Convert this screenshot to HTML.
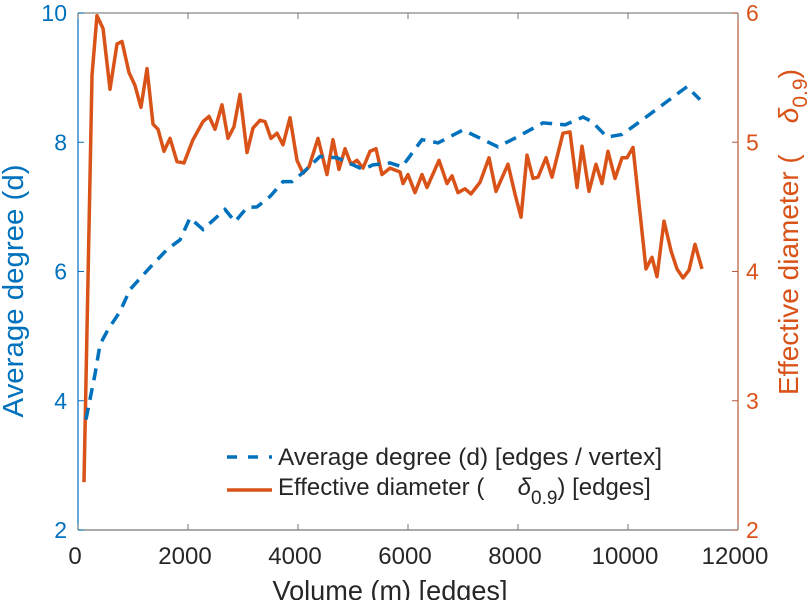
<!DOCTYPE html>
<html><head><meta charset="utf-8"><style>
body{margin:0;background:#fff;}
svg{display:block;font-family:"Liberation Sans",sans-serif;}
</style></head><body>
<svg id="chart" width="812" height="600"></svg>
<script>
const volD=[145,309,400,545,764,945,1273,1618,1855,2036,2273,2673,2855,3073,3255,3491,3727,3891,4091,4400,4709,5000,5182,5364,5673,5891,6255,6545,7000,7364,7636,7982,8455,8855,9182,9345,9618,9891,10218,10582,11073,11309];
const degree=[3.71,4.41,4.87,5.10,5.38,5.72,6.03,6.34,6.49,6.83,6.65,6.96,6.77,6.99,7.00,7.16,7.39,7.39,7.53,7.78,7.76,7.65,7.58,7.65,7.68,7.62,8.04,7.99,8.19,8.04,7.93,8.08,8.30,8.27,8.39,8.32,8.08,8.12,8.32,8.55,8.86,8.66];
const volE=[109,255,345,455,582,709,800,927,1036,1145,1255,1364,1455,1564,1673,1800,1927,2091,2273,2382,2491,2618,2727,2836,2945,3073,3182,3309,3400,3509,3618,3727,3855,3982,4091,4200,4364,4527,4636,4745,4855,4964,5073,5182,5309,5418,5527,5673,5855,5909,6000,6127,6255,6345,6564,6709,6800,6909,7036,7145,7309,7473,7600,7818,7945,8055,8164,8273,8364,8509,8618,8818,8945,9073,9164,9291,9418,9527,9636,9764,9891,9982,10091,10327,10436,10527,10655,10782,10891,11000,11109,11218,11345];
const diam=[2.37,5.52,5.98,5.88,5.41,5.76,5.78,5.54,5.44,5.27,5.57,5.14,5.10,4.93,5.03,4.85,4.84,5.02,5.16,5.20,5.10,5.29,5.03,5.12,5.37,4.92,5.11,5.17,5.16,5.03,5.07,4.98,5.19,4.86,4.76,4.81,5.03,4.75,5.02,4.79,4.95,4.83,4.86,4.80,4.93,4.95,4.75,4.80,4.77,4.68,4.75,4.61,4.75,4.65,4.86,4.68,4.74,4.61,4.64,4.60,4.69,4.88,4.62,4.83,4.60,4.42,4.90,4.72,4.73,4.88,4.73,5.07,5.08,4.65,4.97,4.62,4.83,4.68,4.93,4.72,4.88,4.88,4.96,4.02,4.11,3.96,4.39,4.16,4.02,3.95,4.01,4.21,4.02];
const xTicks=[0,2000,4000,6000,8000,10000,12000];
const yLTicks=[2,4,6,8,10];
const yRTicks=[2,3,4,5,6];
const L=78,R=738,T=13,B=530;
const xs=v=>L+(v/12000)*(R-L);
const yl=v=>B-(v-2)/8*(B-T);
const yr=v=>B-(v-2)/4*(B-T);
const svg=document.getElementById('chart');
const NS='http://www.w3.org/2000/svg';
function mk(tag,attrs,parent){const e=document.createElementNS(NS,tag);for(const k in attrs)e.setAttribute(k,attrs[k]);(parent||svg).appendChild(e);return e;}
const BLUE='#0072BD',ORANGE='#D95319',RAX='#b35a3a';
let e;
e=mk('line',{x1:L,y1:T,x2:R,y2:T,stroke:'#888','stroke-width':1.2});


e=mk('line',{x1:L,y1:B,x2:R,y2:B,stroke:'#777','stroke-width':1.2});


e=mk('line',{x1:L,y1:T,x2:L,y2:B,stroke:BLUE,'stroke-width':1.2});


e=mk('line',{x1:R,y1:T,x2:R,y2:B,stroke:RAX,'stroke-width':1.2});


xTicks.forEach(t=>{
  const x=xs(t);
  e=mk('line',{x1:x,y1:B,x2:x,y2:B-6,stroke:'#777'});
  
  
  e=mk('line',{x1:x,y1:T,x2:x,y2:T+6,stroke:'#777'});
  
  
  e=mk('text',{x:x-3,y:564,'text-anchor':'middle','font-size':24,fill:'#262626'});
  e.textContent=t;
  
  
});
yLTicks.forEach(t=>{
  const y=yl(t);
  e=mk('line',{x1:L,y1:y,x2:L+6,y2:y,stroke:BLUE});
  
  
  e=mk('text',{x:L-11,y:y+8,'text-anchor':'end','font-size':23,fill:BLUE});
  e.textContent=t;
  
  
});
yRTicks.forEach(t=>{
  const y=yr(t);
  e=mk('line',{x1:R,y1:y,x2:R-6,y2:y,stroke:RAX});
  
  
  e=mk('text',{x:R+8,y:y+8,'text-anchor':'start','font-size':23,fill:ORANGE});
  e.textContent=t;
  
  
});
e=mk('text',{x:0,y:0,'text-anchor':'middle','font-size':29,fill:BLUE,textLength:253,lengthAdjust:'spacingAndGlyphs',transform:'translate(23,291) rotate(-90)'});
e.textContent='Average degree (d)';


e=mk('text',{x:0,y:0,'text-anchor':'start','font-size':28,fill:ORANGE,transform:'translate(798,395) rotate(-90)'});
e.innerHTML='Effective diameter (&#160;&#160;&#160;&#160;<tspan font-style="italic">δ</tspan><tspan dy="9" font-size="21">0.9</tspan><tspan dy="-9">)</tspan>';


e=mk('text',{x:390,y:600,'text-anchor':'middle','font-size':28,fill:'#262626',textLength:235,lengthAdjust:'spacingAndGlyphs'});
e.textContent='Volume (m) [edges]';


e=mk('polyline',{points:volE.map((v,i)=>xs(v)+','+yr(diam[i])).join(' '),fill:'none',stroke:ORANGE,'stroke-width':3.5,'stroke-linejoin':'round'});


e=mk('polyline',{points:volD.map((v,i)=>xs(v)+','+yl(degree[i])).join(' '),fill:'none',stroke:BLUE,'stroke-width':3.5,'stroke-dasharray':'12,8'});


const lg=mk('g',{});


e=mk('line',{x1:227,y1:457,x2:272,y2:457,stroke:BLUE,'stroke-width':3.5,'stroke-dasharray':'10,11'},lg);


e=mk('text',{x:278,y:465,'font-size':24,fill:'#262626',textLength:384,lengthAdjust:'spacingAndGlyphs'},lg);
e.textContent='Average degree (d) [edges / vertex]';


e=mk('line',{x1:227,y1:490,x2:272,y2:490,stroke:ORANGE,'stroke-width':3.5},lg);


e=mk('text',{x:278,y:495,'font-size':24,fill:'#262626'},lg);
e.innerHTML='Effective diameter (&#160;&#160;&#160;&#160;&#160;<tspan font-style="italic">δ</tspan><tspan dy="9" font-size="19">0.9</tspan><tspan dy="-9">) [edges]</tspan>';


</script>
</body></html>
